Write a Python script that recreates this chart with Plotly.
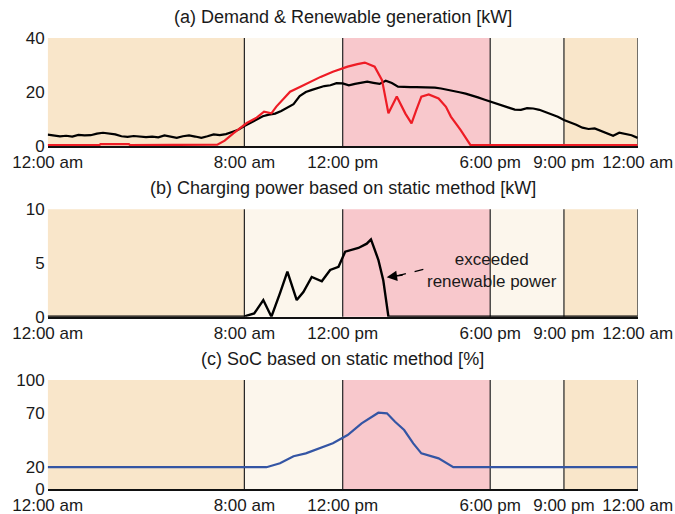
import plotly.graph_objects as go

# ---------------- data ----------------
demand_t = [i * 0.25 for i in range(97)]
demand_kw = [4.2, 4.0, 3.6, 3.8, 3.5, 4.1, 3.9, 4.0, 4.6, 4.9, 4.5, 4.3, 3.6, 3.4, 3.7, 3.5,
             3.3, 3.5, 3.2, 3.9, 3.4, 3.0, 3.6, 3.9, 3.5, 3.0, 3.6, 4.3, 4.0, 4.4, 5.2, 6.0,
             7.4, 8.6, 10.0, 11.0, 11.6, 12.0, 13.0, 14.2, 15.5, 18.5, 20.0, 20.8, 21.5, 22.2, 22.5, 23.3,
             23.2, 22.5, 23.0, 23.5, 23.8, 23.4, 23.0, 24.2, 23.3, 22.0, 21.8, 21.8, 21.8, 21.8, 21.7, 21.6,
             21.3, 20.9, 20.4, 19.9, 19.4, 18.8, 18.0, 17.2, 16.4, 15.8, 15.0, 14.2, 13.5, 13.4, 14.0, 13.9,
             13.4, 12.6, 11.7, 10.8, 9.6, 8.8, 7.9, 6.8, 6.3, 6.5, 5.6, 4.8, 3.8, 4.9, 4.5, 4.0, 3.0]

renew_t = [0, 2.1, 2.15, 3.3, 3.35, 6.5, 6.9, 7.2, 7.55, 8.1, 8.5, 8.8, 9.1, 9.3, 9.6, 9.86,
           10.3, 10.67, 11.1, 11.6, 12.2, 12.6, 12.9, 13.3, 13.6, 13.86, 14.2, 14.55, 14.8, 15.0,
           15.2, 15.5, 15.9, 16.2, 16.4, 16.8, 17.2, 24]
renew_kw = [0.3, 0.3, 0.7, 0.7, 0.3, 0.3, 0.5, 2.0, 4.7, 8.5, 10.5, 12.7, 12.1, 14.6, 17.5, 20.1,
            22.0, 23.8, 25.6, 27.5, 29.4, 30.3, 30.9, 29.4, 24.4, 12.1, 18.3, 12.0, 8.4, 13.5,
            18.3, 19.1, 17.6, 14.5, 10.9, 5.9, 0.3, 0.3]

charge_t = [0, 8.0, 8.1, 8.4, 8.77, 9.1, 9.45, 9.75, 10.13, 10.4, 10.74, 11.15, 11.49, 11.83,
            12.1, 12.64, 12.98, 13.15, 13.45, 13.65, 13.86, 24]
charge_kw = [0, 0, 0.1, 0.3, 1.55, 0, 2.2, 4.2, 1.55, 2.3, 3.7, 3.3, 4.35, 4.65,
             6.05, 6.4, 6.8, 7.2, 5.3, 3.4, 0, 0]

soc_t = [0, 7.8, 8.9, 9.45, 10.0, 10.5, 11.08, 11.6, 12.2, 12.77, 13.45, 13.8, 14.13, 14.5,
         14.87, 15.2, 15.9, 16.5, 24]
soc_pct = [20, 20, 20, 23.6, 30, 32.7, 37.3, 42, 49.5, 60.2, 70, 69.4, 61.7, 54.1,
           41.9, 32.7, 28.1, 20, 20]

x_tickvals = [0, 8, 12, 18, 21, 24]
x_ticktext = ["12:00 am", "8:00 am", "12:00 pm", "6:00 pm", "9:00 pm", "12:00 am"]

period_edges = [0, 8, 12, 18, 21, 24]
period_colors = ["#f9e6ca", "#fcf6ec", "#f8c8cc", "#fcf6ec", "#f9e6ca"]

panel_titles = ["(a) Demand & Renewable generation [kW]",
                "(b) Charging power based on static method [kW]",
                "(c) SoC based on static method [%]"]
y_ranges = [[0, 40], [0, 10], [0, 100]]
y_ticks = [[0, 20, 40], [0, 5, 10], [0, 20, 70, 100]]

# ---------------- layout geometry ----------------
W, H = 675, 514
xd = [47.7 / W, 637.7 / W]
ydoms = [[1 - 146 / H, 1 - 38 / H], [1 - 316.7 / H, 1 - 209.3 / H], [1 - 489 / H, 1 - 380 / H]]
title_y = [1 - 17 / H, 1 - 188 / H, 1 - 359 / H]

FONT = "Liberation Sans, Arial, sans-serif"
TXT = "#1a1a1a"
FS = 17

fig = go.Figure()

fig.add_trace(go.Scatter(x=demand_t, y=demand_kw, mode="lines", line=dict(color="black", width=2.2),
                         xaxis="x", yaxis="y", showlegend=False))
fig.add_trace(go.Scatter(x=renew_t, y=renew_kw, mode="lines", line=dict(color="#ee1c25", width=2.2),
                         xaxis="x", yaxis="y", showlegend=False))
fig.add_trace(go.Scatter(x=charge_t, y=charge_kw, mode="lines", line=dict(color="black", width=2.4),
                         xaxis="x2", yaxis="y2", showlegend=False))
fig.add_trace(go.Scatter(x=soc_t, y=soc_pct, mode="lines", line=dict(color="#3455a4", width=2.2),
                         xaxis="x3", yaxis="y3", showlegend=False))

shapes = []
annotations = []
for i in range(3):
    xr = "x" if i == 0 else f"x{i+1}"
    yr = "y" if i == 0 else f"y{i+1}"
    for j in range(len(period_colors)):
        shapes.append(dict(type="rect", xref=xr, yref=f"{yr} domain",
                           x0=period_edges[j], x1=period_edges[j + 1], y0=0, y1=1,
                           fillcolor=period_colors[j], line=dict(width=0), layer="below"))
    for e in period_edges[1:]:
        shapes.append(dict(type="line", xref=xr, yref=f"{yr} domain", x0=e, x1=e, y0=0, y1=1,
                           line=dict(color="#222222", width=1.2), layer="below"))
    annotations.append(dict(text=panel_titles[i], xref="paper", yref="paper",
                            x=(xd[0] + xd[1]) / 2, y=title_y[i], xanchor="center", yanchor="middle",
                            showarrow=False, font=dict(family=FONT, size=18, color=TXT)))

    axx = dict(domain=xd, range=[0, 24], tickvals=x_tickvals, ticktext=x_ticktext,
               showgrid=False, zeroline=False, showline=True, linecolor="#111111", linewidth=1.6,
               ticks="", tickfont=dict(family=FONT, size=FS, color=TXT), anchor=yr,
               automargin=False, fixedrange=True)
    axy = dict(domain=ydoms[i], range=y_ranges[i], tickvals=y_ticks[i],
               showgrid=False, zeroline=False, showline=False, ticks="",
               tickfont=dict(family=FONT, size=FS, color=TXT), anchor=xr, ticklabelstandoff=2,
               automargin=False)
    fig.layout["xaxis" if i == 0 else f"xaxis{i+1}"] = axx
    fig.layout["yaxis" if i == 0 else f"yaxis{i+1}"] = axy

# annotation in panel b
annotations.append(dict(text="exceeded<br>renewable power", xref="x2", yref="y2", x=18.06, y=4.27,
                        xanchor="center", yanchor="middle", showarrow=False,
                        font=dict(family=FONT, size=FS, color=TXT)))
shapes.append(dict(type="line", xref="x2", yref="y2", x0=15.28, y0=4.41, x1=14.3, y1=3.85,
                   line=dict(color="black", width=1.3, dash="dash")))
annotations.append(dict(text="", xref="x2", yref="y2", x=13.79, y=3.67, ax=14.5, ay=3.9,
                        axref="x2", ayref="y2", showarrow=True, arrowhead=2, arrowsize=1.3,
                        arrowwidth=1.6, arrowcolor="black"))

fig.update_layout(width=W, height=H, margin=dict(l=0, r=0, t=0, b=0, autoexpand=False),
                  paper_bgcolor="white", plot_bgcolor="white",
                  shapes=shapes, annotations=annotations, showlegend=False)

fig.write_html("out.html")
